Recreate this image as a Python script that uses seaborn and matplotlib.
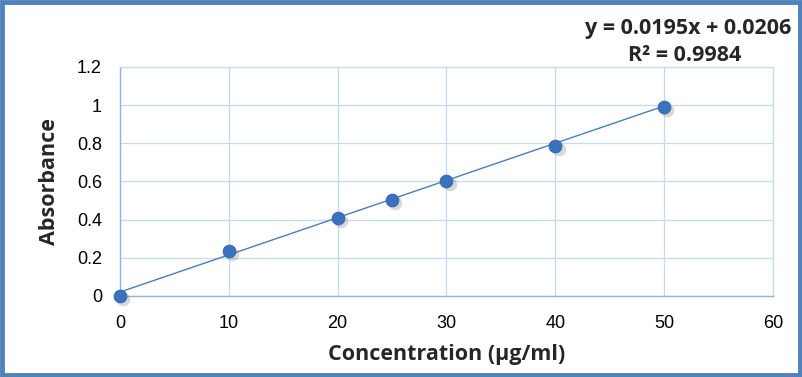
import numpy as np
import pandas as pd
import matplotlib.pyplot as plt
import seaborn as sns
from matplotlib.patches import Rectangle

# Calibration data
concentration = [0, 10, 20, 25, 30, 40, 50]
absorbance = [0.0, 0.236, 0.409, 0.503, 0.603, 0.786, 0.99]

# Linear trendline shown on the chart
slope = 0.0195
intercept = 0.0206
r_squared = 0.9984

df = pd.DataFrame({"Concentration": concentration, "Absorbance": absorbance})
trend_x = [min(concentration), max(concentration)]
trend = pd.DataFrame({"x": trend_x, "y": [slope * v + intercept for v in trend_x]})

sns.set_style("white")
plt.rcParams['font.family'] = ['Liberation Sans', 'DejaVu Sans']
title_font = ['Open Sans', 'DejaVu Sans']

fig = plt.figure(figsize=(8.02, 3.77), dpi=100)
ax = fig.add_axes([0.1496, 0.2149, 0.8142, 0.6074])

grid_col = "#C6D9F1"
sns.lineplot(data=trend, x="x", y="y", ax=ax, color="#4A7EBB", linewidth=1.0, zorder=2)

# soft drop shadow under the markers
ax.scatter(np.array(concentration) + 0.3, np.array(absorbance) - 0.014, s=95,
           color="#7F7F7F", alpha=0.3, linewidths=0, zorder=3, clip_on=False)
sns.scatterplot(data=df, x="Concentration", y="Absorbance", ax=ax, s=85,
                color="#3A72BE", edgecolor="#2F64A8", linewidth=0.6, zorder=4,
                clip_on=False)

ax.set_xlim(0, 60)
ax.set_ylim(0, 1.2)
ax.set_xticks(range(0, 61, 10))
ax.set_yticks([0, 0.2, 0.4, 0.6, 0.8, 1.0, 1.2])
ax.set_yticklabels(["0", "0.2", "0.4", "0.6", "0.8", "1", "1.2"])
ax.grid(True, color=grid_col, linewidth=0.9)
ax.set_axisbelow(True)
for side in ["top", "right"]:
    ax.spines[side].set_color(grid_col)
    ax.spines[side].set_linewidth(0.9)
for side in ["left", "bottom"]:
    ax.spines[side].set_color("#95B3D7")
    ax.spines[side].set_linewidth(1.0)
ax.tick_params(axis="both", labelsize=13, length=0, colors="black")
ax.tick_params(axis="y", pad=13)
ax.tick_params(axis="x", pad=14)

ax.set_xlabel("Concentration (µg/ml)", fontsize=15.5, fontweight="bold",
              family=title_font, labelpad=8)
ax.set_ylabel("Absorbance", fontsize=15.5, fontweight="bold",
              family=title_font, labelpad=12)

fig.text(0.986, 0.925, f"y = {slope}x + {intercept}", ha="right", va="center",
         fontsize=15.5, fontweight="bold", family=title_font)
fig.text(0.924, 0.853, f"R² = {r_squared}", ha="right", va="center",
         fontsize=15.5, fontweight="bold", family=title_font)

# blue frame around the whole chart
fig.patches.append(Rectangle((0.003, 0.005), 0.994, 0.99, transform=fig.transFigure,
                             fill=False, edgecolor="#4F81BD", linewidth=3.5))

fig.savefig("out.png", dpi=100)
